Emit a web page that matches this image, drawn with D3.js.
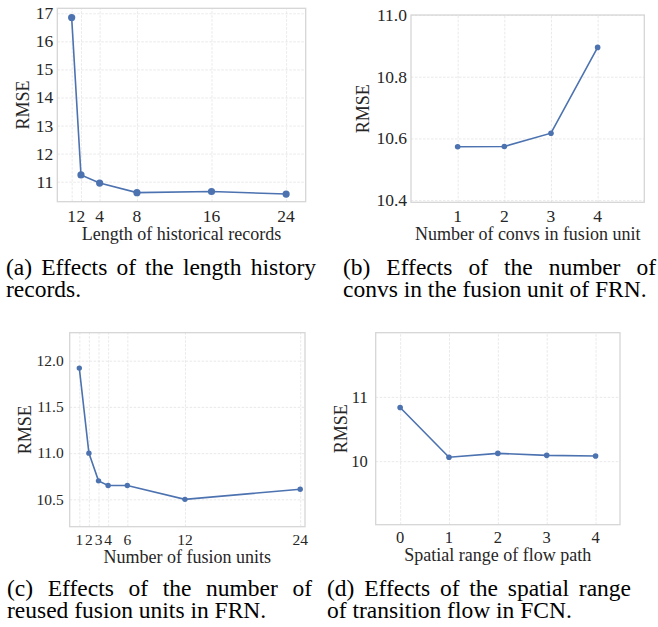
<!DOCTYPE html>
<html><head><meta charset="utf-8">
<script src="https://cdn.jsdelivr.net/npm/d3@7"></script>
<style>body{margin:0;background:#fff}svg{display:block}</style>
</head><body><svg id="c" width="658" height="627"></svg>
<script>
// ---- data ----
const aX = [1, 2, 4, 8, 16, 24];
const aY = [16.85, 11.24, 10.95, 10.61, 10.65, 10.56];
const aXTicks = [1, 2, 4, 8, 16, 24];
const aYTicks = [11, 12, 13, 14, 15, 16, 17];

const bX = [1, 2, 3, 4];
const bY = [10.573, 10.574, 10.617, 10.895];
const bXTicks = [1, 2, 3, 4];
const bYTicks = [10.4, 10.6, 10.8, 11.0];

const cX = [1, 2, 3, 4, 6, 12, 24];
const cY = [11.92, 11.0, 10.70, 10.65, 10.65, 10.50, 10.61];
const cXTicks = [1, 2, 3, 4, 6, 12, 24];
const cYTicks = [10.5, 11.0, 11.5, 12.0];

const dX = [0, 1, 2, 3, 4];
const dY = [10.835, 10.06, 10.12, 10.09, 10.08];
const dXTicks = [0, 1, 2, 3, 4];
const dYTicks = [10, 11];

const xLabels = ["Length of historical records", "Number of convs in fusion unit", "Number of fusion units", "Spatial range of flow path"];
const yLabel = "RMSE";
const captions = [
  ["(a) Effects of the length history", "records."],
  ["(b) Effects of the number of", "convs in the fusion unit of FRN."],
  ["(c) Effects of the number of", "reused fusion units in FRN."],
  ["(d) Effects of the spatial range", "of transition flow in FCN."]
];

// ---- layout ----
const FONT = '"Liberation Serif"';
const panels = [
  {x: aX, y: aY, xt: aXTicks, yt: aYTicks, yf: d3.format("d"),
   box: [57.3, 8.3, 305.7, 201.7], xd: [-0.54, 26.1], yd: [10.287, 17.178],
   tickFs: 17.5, labFs: 18, xtb: 221.7, xlb: 240, ylx: 23, ytGap: 4, r: 3.6,
   cap: {x0: 6, x1: 316, y: 275}},
  {x: bX, y: bY, xt: bXTicks, yt: bYTicks, yf: d3.format(".1f"),
   box: [411, 15, 644.3, 202.3], xd: [0, 5], yd: [10.393, 11.0],
   tickFs: 17.5, labFs: 18, xtb: 221.7, xlb: 240, ylx: 362.5, ytGap: 4, r: 2.8,
   cap: {x0: 343, x1: 656, y: 275}},
  {x: cX, y: cY, xt: cXTicks, yt: cYTicks, yf: d3.format(".1f"),
   box: [69.7, 332.7, 305, 526.7], xd: [0, 24.5], yd: [10.204, 12.303],
   tickFs: 15.5, labFs: 18, xtb: 545, xlb: 563.3, ylx: 25, ytGap: 6, r: 2.7,
   cap: {x0: 7, x1: 312, y: 596}},
  {x: dX, y: dY, xt: dXTicks, yt: dYTicks, yf: d3.format("d"),
   box: [375.7, 332.7, 620, 524.7], xd: [-0.5, 4.5], yd: [9.01, 12.0],
   tickFs: 16.5, labFs: 18, xtb: 543.3, xlb: 561, ylx: 341, ytGap: 8, r: 2.8,
   cap: {x0: 327, x1: 631, y: 596}}
];

const svg = d3.select("#c");
const blue = "#4c72b0", grid = "#e3e3e3", spine = "#d6d6d6", txt = "#262626";

panels.forEach((p, pi) => {
  const [l, t, r, b] = p.box;
  const xs = d3.scaleLinear().domain(p.xd).range([l, r]);
  const ys = d3.scaleLinear().domain(p.yd).range([b, t]);
  const g = svg.append("g");

  g.append("g").attr("transform", `translate(0,${b})`)
    .call(d3.axisBottom(xs).tickValues(p.xt).tickSize(-(b - t)).tickFormat(""))
    .call(s => s.select(".domain").remove())
    .call(s => s.selectAll("line").attr("stroke", grid).attr("stroke-width", 0.8).attr("stroke-dasharray", "2.5,1.5"));
  g.append("g").attr("transform", `translate(${l},0)`)
    .call(d3.axisLeft(ys).tickValues(p.yt).tickSize(-(r - l)).tickFormat(""))
    .call(s => s.select(".domain").remove())
    .call(s => s.selectAll("line").attr("stroke", grid).attr("stroke-width", 0.8).attr("stroke-dasharray", "2.5,1.5"));

  g.append("rect").attr("x", l).attr("y", t).attr("width", r - l).attr("height", b - t)
    .attr("fill", "none").attr("stroke", spine).attr("stroke-width", 1.3);

  g.selectAll(".xt").data(p.xt).join("text")
    .attr("x", d => xs(d)).attr("y", p.xtb).attr("text-anchor", "middle")
    .style("font-family", FONT).attr("font-size", p.tickFs).attr("fill", txt).text(d => d);
  g.selectAll(".yt").data(p.yt).join("text")
    .attr("x", l - p.ytGap).attr("y", d => ys(d)).attr("dy", "0.34em").attr("text-anchor", "end")
    .style("font-family", FONT).attr("font-size", p.tickFs).attr("fill", txt).text(d => p.yf(d));

  g.append("text").attr("x", (l + r) / 2).attr("y", p.xlb).attr("text-anchor", "middle")
    .style("font-family", FONT).attr("font-size", p.labFs).attr("fill", txt).text(xLabels[pi]);
  g.append("text").attr("transform", `translate(${p.ylx},${(t + b) / 2}) rotate(-90)`)
    .attr("dy", "0.34em").attr("text-anchor", "middle")
    .style("font-family", FONT).attr("font-size", p.labFs).attr("fill", txt).text(yLabel);

  const pts = p.x.map((v, i) => [v, p.y[i]]);
  g.append("path").datum(pts)
    .attr("d", d3.line().x(d => xs(d[0])).y(d => ys(d[1])))
    .attr("fill", "none").attr("stroke", blue).attr("stroke-width", 1.6);
  g.selectAll("circle").data(pts).join("circle")
    .attr("cx", d => xs(d[0])).attr("cy", d => ys(d[1])).attr("r", p.r).attr("fill", blue);

  // caption: line 1 justified, line 2 left
  const cap = captions[pi];
  const fs = 23.5;
  const words = cap[0].split(" ");
  const tmp = words.map(w => g.append("text").style("font-family", FONT).attr("font-size", fs).attr("fill", "#000").text(w));
  const widths = tmp.map(tn => tn.node().getComputedTextLength());
  const total = d3.sum(widths);
  const gap = (p.cap.x1 - p.cap.x0 - total) / (words.length - 1);
  let cx = p.cap.x0;
  tmp.forEach((tn, i) => { tn.attr("x", cx).attr("y", p.cap.y); cx += widths[i] + gap; });
  g.append("text").attr("x", p.cap.x0).attr("y", p.cap.y + 21.7).style("font-family", FONT)
    .attr("font-size", fs).attr("fill", "#000").text(cap[1]);
});
</script></body></html>
